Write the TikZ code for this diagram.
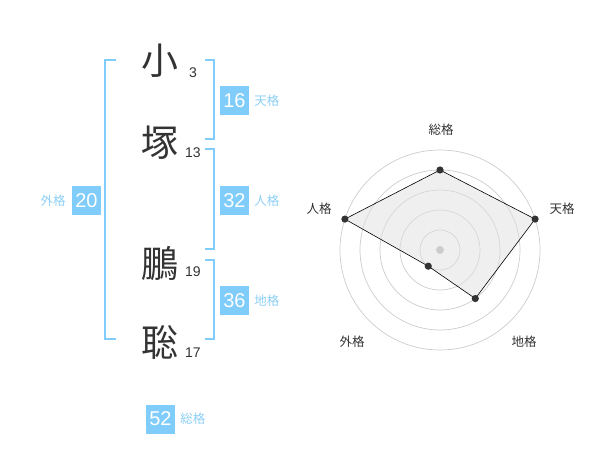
\documentclass[tikz,border=0pt]{standalone}
\usepackage{fontspec}
\setmainfont{Liberation Sans}
\newfontfamily\jpfont{Noto Sans CJK JP}
\usetikzlibrary{positioning}

\definecolor{kakusky}{HTML}{80CCFA}
\definecolor{kakutext}{HTML}{8CCFF6}
\definecolor{namegray}{HTML}{333333}
\definecolor{ringgray}{HTML}{CCCCCC}

\tikzset{
	kanji/.style={inner sep=0pt, text=namegray, font=\jpfont\fontsize{37}{37}\selectfont},
	strokes/.style={inner sep=0pt, text=namegray, font=\fontsize{14}{14}\selectfont},
	bracket/.style={draw=kakusky, line width=2pt},
	kakubox/.style={fill=kakusky, text=white, minimum width=29pt, minimum height=29pt, inner sep=0pt, font=\fontsize{20}{20}\selectfont},
	kakuname/.style={inner sep=0pt, text=kakutext, font=\jpfont\fontsize{12.5}{12.5}\selectfont},
	ring/.style={draw=ringgray, line width=0.7pt},
	web/.style={draw=black, line width=0.6pt, fill=black!12, fill opacity=0.5},
	axisname/.style={inner sep=0pt, text=namegray, font=\jpfont\fontsize{12.5}{12.5}\selectfont}
}

\begin{document}
\begin{tikzpicture}[x=1pt, y=-1pt, node distance=5pt]
\useasboundingbox (0,0) rectangle (600,470);

% name and strokes
\node[kanji] (c1) at (160,61) {小};
\node[kanji] (c2) at (160,143) {塚};
\node[kanji] (c3) at (160,263) {鵬};
\node[kanji] (c4) at (160,342) {聡};
\node[strokes] (s1) at (193,73) {3};
\node[strokes] (s2) at (193,153) {13};
\node[strokes] (s3) at (193,272) {19};
\node[strokes] (s4) at (193,353) {17};

% brackets
\draw[bracket] (116,60) -- (105,60) -- (105,339) -- (116,339);
\draw[bracket] (205,60) -- (214,60) -- (214,139) -- (205,139);
\draw[bracket] (205,149) -- (214,149) -- (214,249) -- (205,249);
\draw[bracket] (205,260) -- (214,260) -- (214,339) -- (205,339);

% kakusu
\node[kakubox] (ten) at (234.5,100.5) {16};
\node[kakuname, right=of ten] (tenl) {天格};
\node[kakubox] (jin) at (234.5,200.5) {32};
\node[kakuname, right=of jin] (jinl) {人格};
\node[kakubox] (chi) at (234.5,300.5) {36};
\node[kakuname, right=of chi] (chil) {地格};
\node[kakubox] (gai) at (86.5,200.5) {20};
\node[kakuname, left=6pt of gai] (gail) {外格};
\node[kakubox] (sou) at (160.5,419) {52};
\node[kakuname, right=of sou] (soul) {総格};

% radar
\coordinate (o) at (440,250);
\foreach \r in {20,40,60,80,100}
	\draw[ring] (o) circle (\r pt);

\foreach \a/\r/\n in {90/80/sou, 18/100/ten, -54/60/chi, -126/20/gai, 162/100/jin}
	\coordinate (p\n) at ([shift={(o)}]\a:\r pt);
\draw[web] (psou) -- (pten) -- (pchi) -- (pgai) -- (pjin) -- cycle;
\fill[ringgray] (o) circle (4pt);
\foreach \n in {sou, ten, chi, gai, jin}
	\fill[namegray] (p\n) circle (3.6pt);

\node[axisname] (asou) at (441,130) {総格};
\node[axisname] (aten) at (562,209) {天格};
\node[axisname] (achi) at (524,342) {地格};
\node[axisname] (agai) at (352,342) {外格};
\node[axisname] (ajin) at (319,209) {人格};

\end{tikzpicture}
\end{document}
